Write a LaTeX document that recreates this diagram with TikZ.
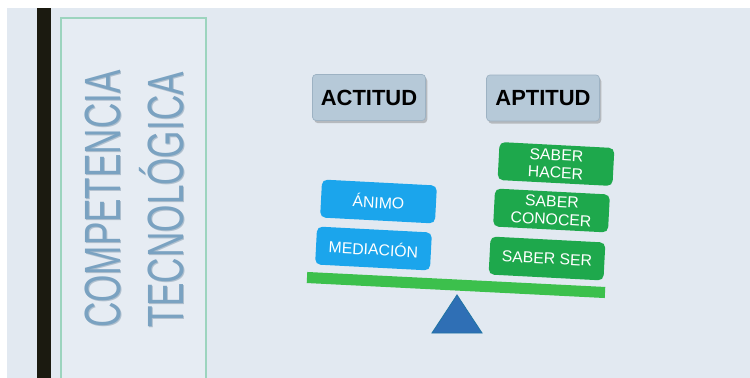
\documentclass[tikz,border=0pt]{standalone}
\usepackage{fontspec}
\setmainfont{Liberation Sans}
\usetikzlibrary{shadows}
\definecolor{fondo}{HTML}{E2E9F1}
\definecolor{barra}{HTML}{1B1A10}
\definecolor{marco}{HTML}{9CD4BE}
\definecolor{tituloazul}{HTML}{7AA2C1}
\definecolor{titulosombra}{HTML}{4E6E8A}
\definecolor{cabfondo}{HTML}{B6C9D8}
\definecolor{cabborde}{HTML}{9DB2C3}
\definecolor{celeste}{HTML}{1BA5EC}
\definecolor{verde}{HTML}{1EA84C}
\definecolor{viga}{HTML}{3CC04C}
\definecolor{apoyo}{HTML}{2F6FB5}
\begin{document}
\begin{tikzpicture}[x=0.02cm, y=-0.02cm,
	titulo/.style={anchor=base, inner sep=0pt, rotate=90, text=tituloazul, font=\fontsize{29}{29}\selectfont},
	titulosomb/.style={titulo, text=titulosombra, opacity=0.35},
	cabecera/.style={shape=rectangle, draw=cabborde, fill=cabfondo, rounded corners=2pt, minimum width=2.26cm, minimum height=0.92cm, font=\bfseries\fontsize{12.5}{14}\selectfont, drop shadow={shadow xshift=1pt, shadow yshift=-1.5pt, opacity=0.45}},
	bloque/.style={shape=rectangle, rounded corners=3pt, minimum width=2.3cm, minimum height=0.76cm, inner sep=1pt, align=center, text=white, rotate=-3, font=\fontsize{9}{10}\selectfont},
	animo/.style={bloque, fill=celeste},
	saber/.style={bloque, fill=verde}]
	% Paths, nodes and wires:
	\useasboundingbox (0, 0) rectangle (750, 378);
	\fill[fondo] (7, 8) rectangle (750, 378);
	\fill[barra] (37, 8) rectangle (51, 378);
	\draw[marco, fill=fondo!85!white, line width=0.6pt] (61, 378) |- (206, 18) -- (206, 378);
	\node[titulosomb] (sombra1) at (121, 200){\scalebox{0.69}[1]{COMPETENCIA}};
	\node[titulo] (linea1) at (120, 199){\scalebox{0.69}[1]{COMPETENCIA}};
	\node[titulosomb] (sombra2) at (184, 201){\scalebox{0.69}[1]{TECNOLÓGICA}};
	\node[titulo] (linea2) at (183, 200){\scalebox{0.69}[1]{TECNOLÓGICA}};
	\node[cabecera] (actitud) at (369, 97.5){ACTITUD};
	\node[cabecera] (aptitud) at (543, 98){APTITUD};
	\node[animo] (animo) at (378.5, 201.5){ÁNIMO};
	\node[animo] (mediacion) at (373.5, 248.5){MEDIACIÓN};
	\node[saber] (hacer) at (556, 164){SABER\\HACER};
	\node[saber] (conocer) at (551.5, 210.5){SABER\\CONOCER};
	\node[saber] (ser) at (547, 258.5){SABER SER};
	\draw[viga, line width=6.3pt] (307, 277.5) -- (605, 292.5);
	\draw[fill=apoyo, draw=apoyo!70!teal, line width=0.5pt] (457, 295) -- (432, 333) -- (482, 333) -- cycle;
\end{tikzpicture}
\end{document}
